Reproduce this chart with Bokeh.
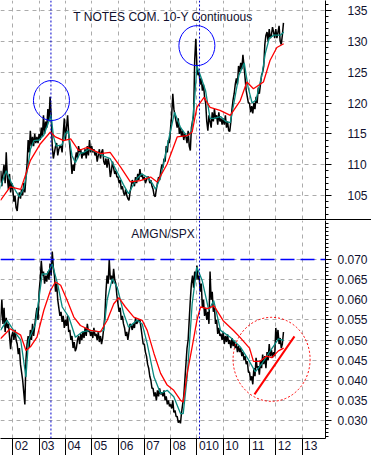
import numpy as np
from bokeh.plotting import figure
from bokeh.layouts import column
from bokeh.models import Range1d, FixedTicker, Span, Label, NumeralTickFormatter, CustomJSTickFormatter, Div
from bokeh.embed import file_html
from bokeh.resources import INLINE

# ---------------- data ----------------
# price / ratio series: two samples per month, starting July 2001
series_start = 2001.5
samples_per_year = 24

tnote_close = [
    107, 109, 106.5, 108.5, 110, 107, 112, 108, 106, 108.5, 105.5, 107,
    106, 104, 105, 103, 102.5, 104.5, 105.5, 104.5, 106, 105, 107, 105.5, 108, 110, 114, 112, 115.5, 113, 114.5, 113, 115, 113.5, 114.5, 113.5,
    115, 114, 116, 114.5, 118, 115, 117, 116, 119, 117, 121, 118, 113, 111, 112, 113, 113.5, 111.5, 112.5, 113, 113, 112, 115, 117.5,
    114, 116, 118, 115, 113, 111, 108.5, 110, 109, 111, 112, 111, 113, 112, 112.5, 111, 112, 111.5, 112.5, 111, 113, 111.5, 114, 112,
    113, 112, 112.5, 111.5, 112, 110.5, 111.5, 112.5, 111, 112, 112.5, 110.5, 110, 111, 109.5, 111, 110, 108, 109, 110.5, 109.5, 108.5, 109, 108,
    108, 107, 107.5, 106, 106.5, 105.5, 105, 106, 105, 104.5, 104.2, 105.5, 106.5, 107.5, 107, 106.5, 108, 107, 108.5, 107.5, 109.3, 108, 108.5, 107.5,
    108, 107, 107.5, 108, 108, 107, 107.5, 106.5, 106, 105, 104.8, 106, 107, 108, 107.5, 109, 110, 109.5, 111, 110.5, 113, 112, 114, 113.5,
    116, 118, 121.5, 119, 118, 117, 116, 117.5, 115, 116, 114.5, 115.5, 114, 115, 114.5, 113.5, 115.5, 113, 112.3, 116, 117, 118, 127, 130.4,
    126, 124.5, 125, 123, 124, 122, 123, 121, 120, 117, 115.5, 118, 117, 116, 118.5, 117, 119, 117.5, 118, 116.5, 118.5, 117, 117.5, 116.5,
    117.5, 116.5, 118, 116, 117, 115.5, 115.4, 117, 119, 120.5, 121.5, 123, 124, 123, 126, 125, 126.5, 125.5, 127.8, 126, 124, 122, 121, 120,
    120, 118.5, 119.5, 118.3, 120, 119, 121, 120, 122.5, 121.5, 123, 124.5, 125, 126, 129.5, 131, 131.5, 130, 132, 130.5, 131, 132.3, 131.5, 130.5,
    132, 130.5, 131.5, 132.5, 130, 129.5, 131, 133,
]

amgn_spx = [
    0.053, 0.056, 0.060, 0.054, 0.058, 0.052, 0.0555, 0.053, 0.054, 0.051, 0.0477, 0.051,
    0.052, 0.050, 0.0525, 0.050, 0.049, 0.0465, 0.048, 0.044, 0.042, 0.040, 0.037, 0.034, 0.045, 0.049, 0.051, 0.048, 0.0525, 0.050, 0.054, 0.051, 0.0535, 0.056, 0.058, 0.055,
    0.062, 0.065, 0.0697, 0.066, 0.067, 0.064, 0.066, 0.0645, 0.067, 0.065, 0.069, 0.066, 0.072, 0.068, 0.066, 0.062, 0.064, 0.060, 0.058, 0.056, 0.057, 0.0545, 0.056, 0.053,
    0.055, 0.0535, 0.056, 0.052, 0.0525, 0.050, 0.051, 0.048, 0.0495, 0.0472, 0.048, 0.050, 0.051, 0.049, 0.0515, 0.050, 0.052, 0.0505, 0.053, 0.051, 0.054, 0.052, 0.0525, 0.051,
    0.052, 0.0505, 0.053, 0.051, 0.0515, 0.050, 0.052, 0.0495, 0.051, 0.049, 0.0505, 0.053, 0.056, 0.062, 0.066, 0.064, 0.070, 0.065, 0.066, 0.064, 0.0677, 0.065, 0.064, 0.061,
    0.059, 0.057, 0.058, 0.055, 0.056, 0.054, 0.053, 0.051, 0.052, 0.050, 0.052, 0.054, 0.0535, 0.0525, 0.054, 0.053, 0.0555, 0.054, 0.0545, 0.055, 0.055, 0.053, 0.051, 0.049,
    0.049, 0.047, 0.046, 0.044, 0.043, 0.041, 0.040, 0.038, 0.038, 0.036, 0.037, 0.035, 0.0375, 0.036, 0.038, 0.0365, 0.037, 0.036, 0.0375, 0.035, 0.036, 0.034, 0.035, 0.0335,
    0.034, 0.033, 0.035, 0.032, 0.0325, 0.031, 0.031, 0.0295, 0.030, 0.0293, 0.032, 0.034, 0.036, 0.040, 0.044, 0.048, 0.050, 0.055, 0.060, 0.064, 0.066, 0.063, 0.067, 0.065,
    0.0685, 0.065, 0.066, 0.062, 0.064, 0.058, 0.060, 0.056, 0.058, 0.055, 0.057, 0.054, 0.067, 0.060, 0.062, 0.057, 0.058, 0.054, 0.055, 0.0515, 0.053, 0.051, 0.0515, 0.050,
    0.052, 0.049, 0.051, 0.0495, 0.0514, 0.049, 0.050, 0.048, 0.0505, 0.0485, 0.0497, 0.048, 0.049, 0.047, 0.0485, 0.047, 0.048, 0.046, 0.047, 0.045, 0.046, 0.044, 0.0447, 0.042,
    0.042, 0.040, 0.041, 0.039, 0.043, 0.041, 0.0456, 0.043, 0.0435, 0.0414, 0.045, 0.043, 0.0464, 0.044, 0.046, 0.043, 0.047, 0.045, 0.049, 0.046, 0.0475, 0.0456, 0.047, 0.046,
    0.053, 0.050, 0.0525, 0.049, 0.0505, 0.048, 0.049, 0.052,
]

# moving averages (date, value)
tnote_fast_t = [2001.5, 2001.62, 2001.75, 2001.92, 2002.1, 2002.25, 2002.42, 2002.55, 2002.67, 2002.8, 2003.0, 2003.18,
                2003.33, 2003.45, 2003.55, 2003.65, 2003.87, 2004.0, 2004.1, 2004.25, 2004.38, 2004.55, 2004.7, 2004.9,
                2005.2, 2005.46, 2005.7, 2005.97, 2006.2, 2006.4, 2006.55, 2006.73, 2006.9, 2007.1, 2007.3, 2007.43,
                2007.62, 2007.75, 2007.87, 2008.05, 2008.15, 2008.38, 2008.63, 2008.8, 2008.92, 2009.0, 2009.13, 2009.33,
                2009.5, 2009.65, 2009.9, 2010.1, 2010.27, 2010.45, 2010.6, 2010.8, 2010.95, 2011.1, 2011.25, 2011.47,
                2011.6, 2011.75, 2011.93, 2012.18, 2012.3]
tnote_fast_v = [106, 107.5, 109, 107.3, 105.8, 104.8, 106.2, 109, 112.5, 113.9, 114, 114.8,
                116.5, 118, 114.5, 113, 113.2, 115, 115.5, 111.5, 110.3, 111.8, 112, 112.5,
                112, 111.4, 111, 108.8, 106.8, 105.3, 106.5, 107.8, 108.5, 108, 107, 106,
                108, 110.5, 113, 116.5, 118.5, 116, 114.6, 115.5, 121, 126, 124.5, 122,
                117.5, 117.5, 117.8, 117, 116.8, 121, 124.5, 126.5, 122.5, 120, 120.5, 124.5,
                128, 130.5, 131, 131, 131.5]

tnote_slow_t = [2001.53, 2001.9, 2002.3, 2002.67, 2003.05, 2003.43, 2003.62, 2003.94, 2004.2, 2004.5, 2004.83, 2005.33,
                2005.7, 2006.1, 2006.47, 2006.85, 2007.24, 2007.49, 2007.87, 2008.25, 2008.63, 2008.82, 2009.0, 2009.27,
                2009.5, 2009.88, 2010.27, 2010.65, 2010.9, 2011.15, 2011.53, 2011.78, 2012.04, 2012.3]
tnote_slow_v = [104.2, 106.4, 106, 110.7, 113.4, 115.3, 114.5, 113.9, 114.2, 112.3, 112.8, 111.8,
                112, 109.6, 107.2, 107.4, 108, 107.2, 110.1, 114.5, 114.7, 115.3, 119.3, 120.9,
                119.3, 118.8, 118, 120.4, 123.4, 122.3, 123.4, 126.9, 129, 129.6]

ratio_fast_t = [2001.53, 2001.78, 2002.03, 2002.3, 2002.5, 2002.6, 2002.86, 2003.12, 2003.3, 2003.5, 2003.7, 2003.88,
                2004.13, 2004.38, 2004.64, 2004.95, 2005.27, 2005.46, 2005.59, 2005.78, 2005.97, 2006.22, 2006.4, 2006.73,
                2006.92, 2007.11, 2007.37, 2007.62, 2007.87, 2008.12, 2008.38, 2008.48, 2008.63, 2008.82, 2009.0, 2009.2,
                2009.45, 2009.64, 2009.9, 2010.27, 2010.65, 2010.97, 2011.22, 2011.47, 2011.72, 2011.98, 2012.1, 2012.3]
ratio_fast_v = [0.0524, 0.0549, 0.0524, 0.050, 0.0408, 0.050, 0.054, 0.0664, 0.0664, 0.0689, 0.064, 0.0582,
                0.0557, 0.0507, 0.052, 0.0524, 0.052, 0.0524, 0.060, 0.0652, 0.0631, 0.0565, 0.0532, 0.0549,
                0.054, 0.0491, 0.0408, 0.0367, 0.0375, 0.0359, 0.0317, 0.0317, 0.0408, 0.059, 0.0681, 0.0648,
                0.0574, 0.0598, 0.0524, 0.0507, 0.0483, 0.045, 0.0421, 0.0441, 0.0466, 0.0491, 0.0503, 0.0499]

ratio_slow_t = [2001.53, 2001.9, 2002.3, 2002.5, 2002.67, 2002.92, 2003.18, 2003.43, 2003.62, 2003.82, 2004.07, 2004.32,
                2004.57, 2004.95, 2005.33, 2005.59, 2005.84, 2006.03, 2006.28, 2006.6, 2006.92, 2007.11, 2007.37, 2007.62,
                2007.87, 2008.12, 2008.38, 2008.48, 2008.63, 2008.82, 2009.0, 2009.14, 2009.4, 2009.65, 2010.0, 2010.4,
                2010.65, 2011.0, 2011.15, 2011.4, 2011.65, 2011.85, 2012.1, 2012.3]
ratio_slow_v = [0.0503, 0.0528, 0.0512, 0.0474, 0.0483, 0.0507, 0.0574, 0.0623, 0.0644, 0.0636, 0.0598, 0.0557,
                0.0536, 0.0524, 0.052, 0.0549, 0.059, 0.0605, 0.0582, 0.0557, 0.0549, 0.0524, 0.0466, 0.0417,
                0.0388, 0.0375, 0.035, 0.0346, 0.0417, 0.0483, 0.0549, 0.0582, 0.0578, 0.0585, 0.0548, 0.0523,
                0.0506, 0.048, 0.0447, 0.0447, 0.046, 0.0456, 0.0473, 0.048]

year_ticks = [2002, 2003, 2004, 2005, 2006, 2007, 2008, 2009, 2010, 2011, 2012, 2013]
year_labels = ["02", "03", "04", "05", "06", "07", "08", "010", "10", "11", "12", "13"]
tnote_ticks = [105, 110, 115, 120, 125, 130, 135]
ratio_ticks = [0.030, 0.035, 0.040, 0.045, 0.050, 0.055, 0.060, 0.065, 0.070]

event_dates = [2003.45, 2009.1]          # blue dotted markers
peak_dates = [2003.47, 2009.0]           # circled T-note peaks
peak_values = [120.4, 129.3]
resistance_level = 0.070
trend_dates = [2011.19, 2012.71]
trend_values = [0.0365, 0.0509]
focus_date = [2011.84]
focus_value = [0.0452]

# ---------------- style ----------------
FONT = "Liberation Sans"
TXT = "#10102e"
GRID = "#ababab"
TEAL = "#0a8a80"
RED = "#ff0000"
FRAME_W = 325
X_RANGE = (2001.532, 2013.89)
T_RANGE = (101.11, 136.62)
R_RANGE = (0.02553, 0.07969)
TOP_H = 219
BOT_H = 218

n = len(tnote_close)
t_series = series_start + np.arange(n) / samples_per_year
px_per_year = FRAME_W / (X_RANGE[1] - X_RANGE[0])
# year labels sit just right of each year boundary: centre = boundary + (gap + half label width)
label_pos = [y + (2.0 + 3.35 * len(lab)) / px_per_year for y, lab in zip(year_ticks, year_labels)]

xr = Range1d(*X_RANGE)


def style_common(p):
    p.outline_line_color = None
    p.background_fill_color = "white"
    p.border_fill_color = "white"
    for g in p.grid:
        g.grid_line_color = GRID
        g.grid_line_dash = "4 4"
        g.grid_line_width = 1
    p.xgrid.ticker = FixedTicker(ticks=year_ticks)
    ax = p.yaxis[0]
    ax.axis_line_color = "black"
    ax.major_tick_line_color = "black"
    ax.minor_tick_line_color = "black"
    ax.major_tick_in = 0
    ax.major_tick_out = 6
    ax.minor_tick_in = 0
    ax.minor_tick_out = 3
    ax.major_label_text_font = FONT
    ax.major_label_text_font_size = "12px"
    ax.major_label_text_color = TXT


# ---------- top panel ----------
p1 = figure(frame_width=FRAME_W, frame_height=TOP_H, x_range=xr, y_range=Range1d(*T_RANGE),
            output_backend="svg", toolbar_location=None, x_axis_location=None, y_axis_location="right",
            min_border_left=0, min_border_right=46, min_border_top=0, min_border_bottom=0)
style_common(p1)
p1.yaxis.ticker = FixedTicker(ticks=tnote_ticks, minor_ticks=list(range(101, 137)))
p1.ygrid.ticker = FixedTicker(ticks=tnote_ticks)
p1.yaxis.major_label_standoff = 16

p1.line(t_series, tnote_close, line_color="black", line_width=1.5)
p1.line(tnote_fast_t, tnote_fast_v, line_color=TEAL, line_width=1.3)
p1.line(tnote_slow_t, tnote_slow_v, line_color=RED, line_width=1.3)
for d in event_dates:
    p1.add_layout(Span(location=d, dimension="height", line_color="#0000cc", line_dash="2 2", line_width=1))
p1.ellipse(x=peak_dates, y=peak_values, width=36, height=40, width_units="screen", height_units="screen",
           fill_color=None, line_color="#0000ff", line_width=1)

t_px = TOP_H / (T_RANGE[1] - T_RANGE[0])
p1.add_layout(Label(x=(X_RANGE[0] + X_RANGE[1]) / 2, y=T_RANGE[1] - 16.5 / t_px,
                    text="T NOTES COM. 10-Y Continuous", text_align="center", text_baseline="alphabetic",
                    text_font=FONT, text_font_size="12px", text_color=TXT))

# ---------- separator ----------
sep = Div(text="", width=371, height=1, margin=0, styles={"background-color": "black", "padding": "0"})

# ---------- bottom panel ----------
p2 = figure(frame_width=FRAME_W, frame_height=BOT_H, x_range=xr, y_range=Range1d(*R_RANGE),
            output_backend="svg", toolbar_location=None, x_axis_location="below", y_axis_location="right",
            min_border_left=0, min_border_right=46, min_border_top=0, min_border_bottom=17)
style_common(p2)
p2.yaxis.ticker = FixedTicker(ticks=ratio_ticks, minor_ticks=[round(v, 3) for v in np.arange(0.026, 0.0795, 0.001)])
p2.ygrid.ticker = FixedTicker(ticks=ratio_ticks)
p2.yaxis.formatter = NumeralTickFormatter(format="0.000")
p2.yaxis.major_label_standoff = 6

xa = p2.xaxis[0]
xa.ticker = FixedTicker(ticks=label_pos, minor_ticks=year_ticks)
xa.formatter = CustomJSTickFormatter(args={"labels": year_labels}, code="return labels[index];")
xa.axis_line_color = "black"
xa.major_tick_line_color = None
xa.major_tick_in = 0
xa.major_tick_out = 0
xa.minor_tick_line_color = "black"
xa.minor_tick_out = 17
xa.minor_tick_in = 0
xa.major_label_standoff = -15
xa.major_label_text_font = FONT
xa.major_label_text_font_size = "12px"
xa.major_label_text_color = TXT

p2.line(t_series, amgn_spx, line_color="black", line_width=1.5)
p2.line(ratio_fast_t, ratio_fast_v, line_color=TEAL, line_width=1.3)
p2.line(ratio_slow_t, ratio_slow_v, line_color=RED, line_width=1.3)
p2.add_layout(Span(location=resistance_level, dimension="width", line_color="#0000ff",
                   line_dash="14 6", line_width=1.5))
for d in event_dates:
    p2.add_layout(Span(location=d, dimension="height", line_color="#0000cc", line_dash="2 2", line_width=1))
p2.ellipse(x=focus_date, y=focus_value, width=77, height=84, width_units="screen", height_units="screen",
           fill_color=None, line_color=RED, line_dash="2 2", line_width=1)
p2.line(trend_dates, trend_values, line_color=RED, line_width=2)

r_px = BOT_H / (R_RANGE[1] - R_RANGE[0])
p2.add_layout(Label(x=(X_RANGE[0] + X_RANGE[1]) / 2, y=R_RANGE[1] - 13.3 / r_px,
                    text="AMGN/SPX", text_align="center", text_baseline="alphabetic",
                    text_font=FONT, text_font_size="12px", text_color=TXT))

layout = column(p1, sep, p2, spacing=0)
open("out.html", "w").write(file_html(layout, INLINE))
